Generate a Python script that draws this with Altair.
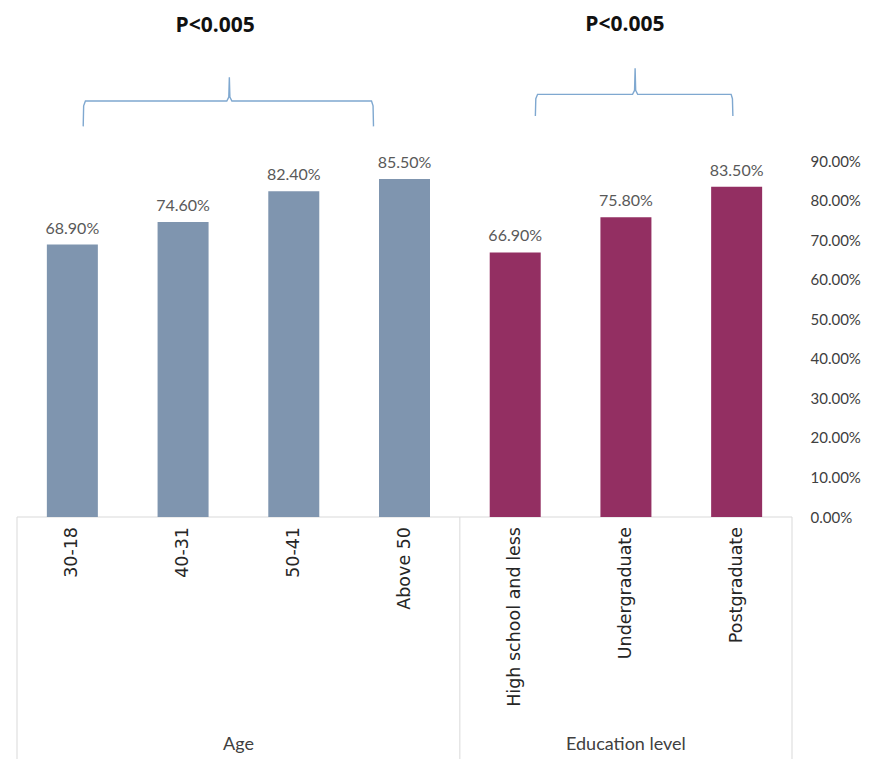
import altair as alt
import pandas as pd

# ---- data ----
categories = ["30-18", "40-31", "50-41", "Above 50",
              "High school and less", "Undergraduate", "Postgraduate"]
groups = ["Age", "Age", "Age", "Age",
          "Education level", "Education level", "Education level"]
values = [0.689, 0.746, 0.824, 0.855, 0.669, 0.758, 0.835]
group_names = ["Age", "Education level"]
group_centers = [1.5, 5.0]          # in category-index units
group_edges = [-0.5, 3.5, 6.5]      # boundaries between groups
p_labels = ["P<0.005", "P<0.005"]
p_x = [1.29, 4.99]
y_ticks = [0.0, 0.1, 0.2, 0.3, 0.4, 0.5, 0.6, 0.7, 0.8, 0.9]

# brace shapes (category-index units, value units)
brace_age_x = [0.098, 0.102, 0.118, 1.395, 1.413, 1.418, 1.423, 1.441, 2.702, 2.716, 2.72]
brace_age_y = [0.988, 1.040, 1.052, 1.052, 1.062, 1.112, 1.062, 1.052, 1.052, 1.040, 0.988]
brace_edu_x = [4.182, 4.186, 4.202, 5.060, 5.078, 5.083, 5.088, 5.106, 5.950, 5.962, 5.966]
brace_edu_y = [1.014, 1.058, 1.069, 1.069, 1.079, 1.135, 1.079, 1.069, 1.069, 1.058, 1.014]

AGE_COLOR = "#7F95AF"
EDU_COLOR = "#932F62"
BOX_COLOR = "#D9D9D9"
BRACE_COLOR = "#7FA8D0"

bars_df = pd.DataFrame({
    "idx": list(range(len(categories))),
    "cat": categories,
    "group": groups,
    "value": values,
})
groups_df = pd.DataFrame({"name": group_names, "x": group_centers, "y": [-0.576] * 2})
edges_df = pd.DataFrame({"x": group_edges, "y": [0.0] * 3, "y2": [-0.62] * 3})
base_df = pd.DataFrame({"x": [group_edges[0]], "x2": [group_edges[-1]], "y": [0.0]})
p_df = pd.DataFrame({"label": p_labels, "x": p_x, "y": [1.241, 1.244]})
brace_df = pd.DataFrame({
    "x": brace_age_x + brace_edu_x,
    "y": brace_age_y + brace_edu_y,
    "order": list(range(len(brace_age_x))) + list(range(len(brace_edu_x))),
    "brace": ["age"] * len(brace_age_x) + ["edu"] * len(brace_edu_x),
})

xscale = alt.Scale(domain=[-0.5, 6.5], nice=False, zero=False)
yscale = alt.Scale(domain=[0, 1.3], nice=False)


def X(f="idx"):
    return alt.X(f"{f}:Q", scale=xscale, axis=None)


bars = alt.Chart(bars_df).mark_bar(size=51).encode(
    x=X(),
    y=alt.Y("value:Q", scale=yscale,
            axis=alt.Axis(orient="right", values=y_ticks, format=".2%",
                          grid=False, domain=False, ticks=False,
                          labelPadding=13, labelFont="Lato", labelFontSize=15,
                          labelColor="#404040", title=None)),
    color=alt.Color("group:N",
                    scale=alt.Scale(domain=group_names, range=[AGE_COLOR, EDU_COLOR]),
                    legend=None),
)

bar_labels = alt.Chart(bars_df).mark_text(
    baseline="bottom", dy=-8, font="Lato", fontSize=16, color="#595959"
).encode(
    x=X(), y=alt.Y("value:Q", scale=yscale),
    text=alt.Text("value:Q", format=".2%"),
)

cat_labels = alt.Chart(bars_df).transform_calculate(zero="0").mark_text(
    angle=270, align="right", baseline="middle", dx=-10,
    font="DejaVu Sans", fontSize=17.5, color="#262626"
).encode(
    x=X(), y=alt.Y("zero:Q", scale=yscale),
    text="cat:N",
)

group_labels = alt.Chart(groups_df).mark_text(
    font="Lato", fontSize=18, color="#404040", baseline="middle"
).encode(x=X("x"), y=alt.Y("y:Q", scale=yscale), text="name:N")

edges = alt.Chart(edges_df).mark_rule(color=BOX_COLOR, strokeWidth=1).encode(
    x=X("x"), y=alt.Y("y:Q", scale=yscale), y2="y2:Q")

base_line = alt.Chart(base_df).mark_rule(color=BOX_COLOR, strokeWidth=1).encode(
    x=X("x"), x2="x2:Q", y=alt.Y("y:Q", scale=yscale))

braces = alt.Chart(brace_df).mark_line(color=BRACE_COLOR, strokeWidth=1.4).encode(
    x=X("x"), y=alt.Y("y:Q", scale=yscale), order="order:Q", detail="brace:N")

p_text = alt.Chart(p_df).mark_text(
    font="Open Sans", fontSize=21, fontWeight="bold", color="#111111", baseline="middle"
).encode(x=X("x"), y=alt.Y("y:Q", scale=yscale), text="label:N")

chart = alt.layer(
    edges, base_line, bars, bar_labels, cat_labels, group_labels, braces, p_text
).properties(
    width=785, height=514,
    autosize=alt.AutoSizeParams(type="none"),
    padding={"left": 12, "top": 3, "right": 91, "bottom": 242},
    background="white",
).configure_view(stroke=None)

chart.save("out.html", embed_options={"renderer": "svg", "actions": False})
